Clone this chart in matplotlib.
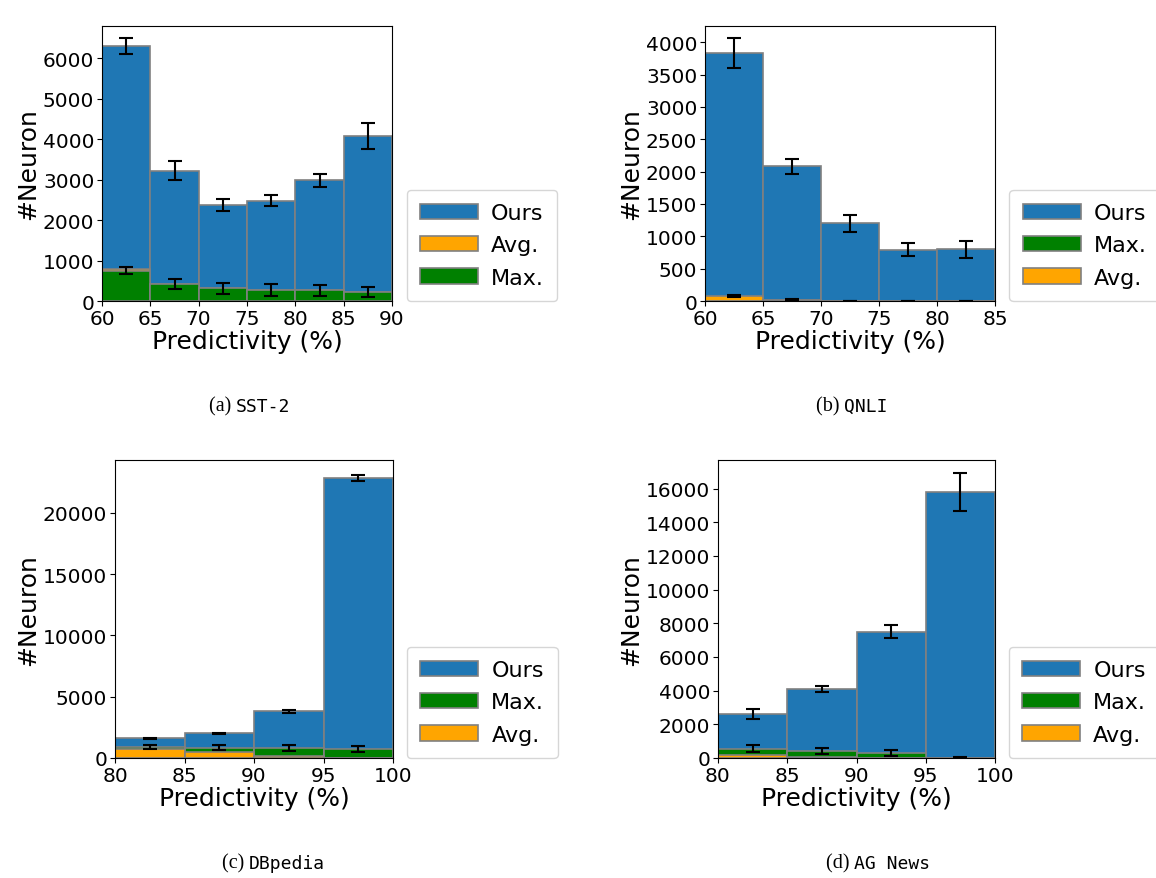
import numpy as np
import matplotlib
matplotlib.use('Agg')
import matplotlib.pyplot as plt

# SST-2
sst_bins = [60, 65, 70, 75, 80, 85, 90]
sst_ours = [6300, 3220, 2380, 2480, 2980, 4080]
sst_ours_err = [200, 230, 150, 130, 150, 330]
sst_avg = [800, 430, 320, 280, 270, 230]
sst_max = [750, 420, 310, 270, 260, 220]
sst_max_err = [80, 130, 130, 150, 140, 120]

# QNLI
qnli_bins = [60, 65, 70, 75, 80, 85]
qnli_ours = [3830, 2080, 1200, 790, 800]
qnli_ours_err = [230, 110, 130, 100, 130]
qnli_max = [30, 10, 3, 2, 2]
qnli_avg = [80, 20, 5, 2, 2]
qnli_avg_err = [20, 5, 2, 1, 1]

# DBpedia
db_bins = [80, 85, 90, 95, 100]
db_ours = [1600, 2000, 3800, 22800]
db_ours_err = [60, 40, 90, 250]
db_max = [900, 850, 850, 750]
db_avg = [750, 450, 180, 30]
db_max_err = [150, 200, 250, 250]

# AG News
ag_bins = [80, 85, 90, 95, 100]
ag_ours = [2600, 4100, 7500, 15800]
ag_ours_err = [300, 200, 400, 1150]
ag_max = [550, 420, 320, 20]
ag_avg = [160, 50, 10, 5]
ag_max_err = [200, 200, 180, 20]

BLUE = '#1f77b4'
ORANGE = 'orange'
GREEN = 'green'


def draw(ax, bins, series, errs, xticks, yticks):
    left = np.array(bins[:-1])
    w = np.diff(bins)
    centers = left + w / 2
    for name, vals, color in series:
        ax.bar(left, vals, width=w, align='edge', color=color,
               edgecolor='grey', linewidth=1.2, label=name)
    for vals, e in errs:
        ax.errorbar(centers, vals, yerr=e, fmt='none', ecolor='black',
                    capsize=5, elinewidth=1.5, capthick=1.5)
    ax.set_xlim(bins[0], bins[-1])
    ax.set_xticks(xticks)
    ax.set_yticks(yticks)
    ax.tick_params(axis='both', labelsize=14.5, pad=2)
    ax.set_xlabel('Predictivity (%)', fontsize=18, labelpad=1)
    ax.set_ylabel('#Neuron', fontsize=18, labelpad=2)
    ax.legend(loc='lower left', bbox_to_anchor=(1.05, 0.0), fontsize=16,
              handlelength=2.6, handletextpad=0.6, borderpad=0.6,
              labelspacing=0.55, borderaxespad=0)


fig = plt.figure(figsize=(11.56, 8.79), dpi=100)
W, H = 1156, 879


def axes(x0, y0, x1, y1):
    return fig.add_axes([x0 / W, 1 - y1 / H, (x1 - x0) / W, (y1 - y0) / H])


a = axes(102, 27, 392, 302)
draw(a, sst_bins, [('Ours', sst_ours, BLUE), ('Avg.', sst_avg, ORANGE), ('Max.', sst_max, GREEN)],
     [(sst_ours, sst_ours_err), (sst_max, sst_max_err)],
     range(60, 91, 5), range(0, 6001, 1000))
a.set_ylim(0, 6800)

b = axes(705, 27, 995, 302)
draw(b, qnli_bins, [('Ours', qnli_ours, BLUE), ('Max.', qnli_max, GREEN), ('Avg.', qnli_avg, ORANGE)],
     [(qnli_ours, qnli_ours_err), (qnli_avg, qnli_avg_err)],
     range(60, 86, 5), range(0, 4001, 500))
b.set_ylim(0, 4250)

c = axes(115, 461, 393, 759)
draw(c, db_bins, [('Ours', db_ours, BLUE), ('Max.', db_max, GREEN), ('Avg.', db_avg, ORANGE)],
     [(db_ours, db_ours_err), (db_max, db_max_err)],
     range(80, 101, 5), range(0, 20001, 5000))
c.set_ylim(0, 24300)

d = axes(718, 461, 995, 759)
draw(d, ag_bins, [('Ours', ag_ours, BLUE), ('Max.', ag_max, GREEN), ('Avg.', ag_avg, ORANGE)],
     [(ag_ours, ag_ours_err), (ag_max, ag_max_err)],
     range(80, 101, 5), range(0, 16001, 2000))
d.set_ylim(0, 17700)

captions = [(250, 407, '(a)', 'SST-2'), (858, 407, '(b)', 'QNLI'),
            (263, 864, '(c)', 'DBpedia'), (868, 864, '(d)', 'AG News')]
for cx, cy, tag, name in captions:
    fig.text(cx / W - 0.012, 1 - cy / H, tag + ' ', ha='right', va='center',
             fontsize=14.5, family='Liberation Serif')
    fig.text(cx / W - 0.012, 1 - cy / H, name, ha='left', va='center',
             fontsize=13, family='DejaVu Sans Mono')

plt.savefig('out.png', dpi=100)
